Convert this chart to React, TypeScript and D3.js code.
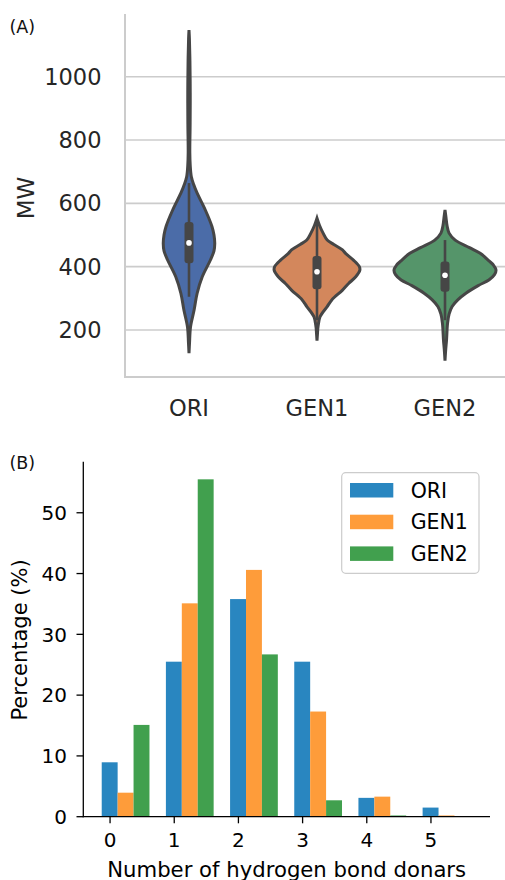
import React from "react";
import * as d3 from "d3";

// ---- panel A: MW violins ----
const groups = ["ORI", "GEN1", "GEN2"];
const violinColors = ["#4b6ca8", "#d3875c", "#55956a"];
const mwTicks = [200, 400, 600, 800, 1000];

// [MW value, relative density]
const oriDensity = [
  [127, 0], [158, 0.01], [210, 0.03], [263, 0.1], [316, 0.16], [368, 0.26], [421, 0.42],
  [450, 0.49], [473, 0.505], [500, 0.49], [527, 0.45], [579, 0.32], [632, 0.16], [660, 0.09],
  [685, 0.045], [720, 0.024], [760, 0.016], [850, 0.022], [950, 0.024], [1050, 0.018],
  [1120, 0.008], [1147, 0],
];
const gen1Density = [
  [166, 0], [190, 0.01], [210, 0.02], [242, 0.06], [274, 0.2], [295, 0.29], [326, 0.5],
  [347, 0.62], [368, 0.76], [389, 0.84], [400, 0.83], [420, 0.72], [442, 0.56], [453, 0.5],
  [470, 0.33], [484, 0.2], [506, 0.12], [530, 0.05], [553, 0],
];
const gen2Density = [
  [103, 0], [140, 0.015], [168, 0.03], [221, 0.05], [250, 0.08], [274, 0.14], [295, 0.25],
  [316, 0.41], [340, 0.65], [358, 0.86], [375, 0.97], [389, 1.0], [405, 0.95], [420, 0.85],
  [442, 0.69], [460, 0.48], [484, 0.2], [506, 0.08], [530, 0.04], [555, 0.02], [579, 0],
];
const densities = [oriDensity, gen1Density, gen2Density];

const q1 = [411, 329, 321];
const q3 = [541, 434, 416];
const medians = [475, 384, 373];
const whiskerLow = [305, 231, 231];
const whiskerHigh = [664, 540, 484];

// ---- panel B: hydrogen bond donors histogram ----
const donors = [0, 1, 2, 3, 4, 5];
const series = ["ORI", "GEN1", "GEN2"];
const barColors = ["#2986c0", "#fe9c3a", "#41a04e"];
const oriPct = [8.95, 25.5, 35.8, 25.5, 3.1, 1.5];
const gen1Pct = [3.95, 35.1, 40.6, 17.3, 3.3, 0.2];
const gen2Pct = [15.1, 55.5, 26.7, 2.7, 0.2, 0.05];
const pctValues = [oriPct, gen1Pct, gen2Pct];
const pctTicks = [0, 10, 20, 30, 40, 50];

const FONT = "DejaVu Sans, sans-serif";

export default function App() {
  // panel A scales
  const xA = d3.scaleBand<string>().domain(groups).range([125, 509]);
  const yA = d3.scaleLinear().domain([51.5, 1198]).range([377, 14]);
  const wA = d3.scaleLinear().domain([0, 1]).range([0, 51]);

  // panel B scales
  const xB = d3.scaleLinear().domain([-0.417, 5.92]).range([83.3, 490]);
  const yB = d3.scaleLinear().domain([0, 58.4]).range([816.7, 461.7]);
  const barW = 0.248;
  const barOff = -0.13;

  const violin = (cx: number) =>
    d3
      .area<number[]>()
      .y((d) => yA(d[0]))
      .x0((d) => cx - wA(d[1]))
      .x1((d) => cx + wA(d[1]))
      .curve(d3.curveCatmullRom);

  return (
    <svg
      width={505}
      height={880}
      style={{ position: "absolute", left: 0, top: 0, background: "#fff" }}
      fontFamily={FONT}
    >
      {/* ===== Panel A ===== */}
      <text x={9.5} y={32.5} fontSize={17.5} fill="#111">(A)</text>
      {mwTicks.map((t) => (
        <g key={t}>
          <line x1={125} x2={505} y1={yA(t)} y2={yA(t)} stroke="#cccccc" strokeWidth={1.6} />
          <text x={101.5} y={yA(t)} dy="0.36em" textAnchor="end" fontSize={22.5} fill="#262626">
            {t}
          </text>
        </g>
      ))}
      <line x1={125} x2={125} y1={14} y2={377} stroke="#cccccc" strokeWidth={2} />
      <line x1={124} x2={505} y1={377} y2={377} stroke="#cccccc" strokeWidth={2} />
      <text transform="translate(33.5,198) rotate(-90)" textAnchor="middle" fontSize={23} fill="#262626">
        MW
      </text>
      {groups.map((g, i) => {
        const cx = xA(g)! + xA.bandwidth() / 2;
        return (
          <g key={g}>
            <path
              d={violin(cx)(densities[i] as number[][]) || ""}
              fill={violinColors[i]}
              stroke="#464646"
              strokeWidth={3}
            />
            <line x1={cx} x2={cx} y1={yA(whiskerLow[i])} y2={yA(whiskerHigh[i])} stroke="#464646" strokeWidth={2.6} />
            <rect
              x={cx - 4.5}
              y={yA(q3[i])}
              width={9}
              height={yA(q1[i]) - yA(q3[i])}
              rx={3}
              fill="#464646"
            />
            <circle cx={cx} cy={yA(medians[i])} r={2.8} fill="#ffffff" />
            <text x={cx} y={415.7} textAnchor="middle" fontSize={22.5} fill="#262626">
              {g}
            </text>
          </g>
        );
      })}

      {/* ===== Panel B ===== */}
      <text x={9.5} y={468.5} fontSize={17.5} fill="#111">(B)</text>
      {series.map((s, i) =>
        donors.map((d, j) => (
          <rect
            key={s + d}
            x={xB(d + barOff + i * barW)}
            y={yB(pctValues[i][j])}
            width={xB(barW) - xB(0)}
            height={yB(0) - yB(pctValues[i][j])}
            fill={barColors[i]}
          />
        ))
      )}
      <line x1={83.3} x2={83.3} y1={461.7} y2={817.3} stroke="#000" strokeWidth={1.3} />
      <line x1={82.7} x2={490} y1={816.7} y2={816.7} stroke="#000" strokeWidth={1.3} />
      {pctTicks.map((t) => (
        <g key={t}>
          <line x1={76.5} x2={83.3} y1={yB(t)} y2={yB(t)} stroke="#000" strokeWidth={1.3} />
          <text x={67} y={yB(t)} dy="0.36em" textAnchor="end" fontSize={20} fill="#000">
            {t}
          </text>
        </g>
      ))}
      {donors.map((d) => (
        <g key={d}>
          <line x1={xB(d)} x2={xB(d)} y1={816.7} y2={823.3} stroke="#000" strokeWidth={1.3} />
          <text x={xB(d)} y={847.3} textAnchor="middle" fontSize={20} fill="#000">
            {d}
          </text>
        </g>
      ))}
      <text transform="translate(27,640) rotate(-90)" textAnchor="middle" fontSize={21} fill="#000">
        Percentage (%)
      </text>
      <text x={286.7} y={876.5} textAnchor="middle" fontSize={21.2} fill="#000">
        Number of hydrogen bond donars
      </text>

      {/* legend */}
      <rect x={341.7} y={472.7} width={137.3} height={100.6} rx={4} fill="#fff" fillOpacity={0.8} stroke="#cccccc" strokeWidth={1.2} />
      {series.map((s, i) => (
        <g key={s}>
          <rect x={350} y={483 + i * 31.7} width={43.3} height={14.5} fill={barColors[i]} />
          <text x={410.7} y={490.2 + i * 31.7} dy="0.36em" fontSize={20.5} fill="#000">
            {s}
          </text>
        </g>
      ))}
    </svg>
  );
}
